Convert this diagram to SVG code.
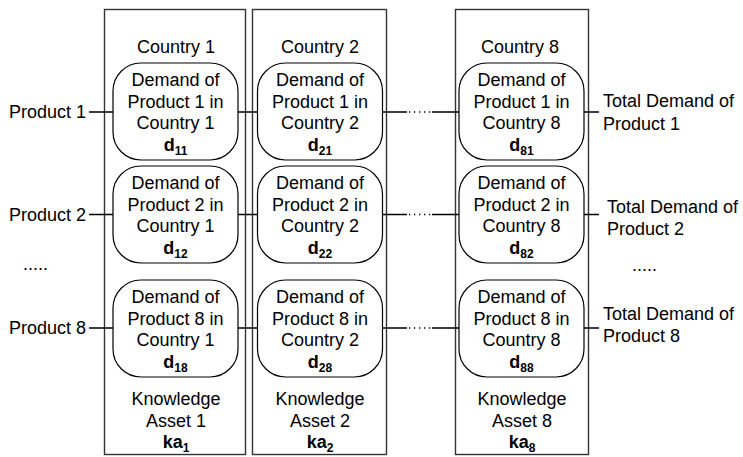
<svg xmlns="http://www.w3.org/2000/svg" width="743" height="457" viewBox="0 0 743 457">
<style>
text{font-family:"Liberation Sans",Arial,sans-serif;font-size:18px;fill:#000}
.c{text-anchor:middle}
.e{text-anchor:end}
.b{font-weight:bold}
.s{font-size:12px;font-weight:bold}
.col{fill:none;stroke:#333;stroke-width:1.4}
.box{fill:#fff;stroke:#000;stroke-width:1.2}
.ln{stroke:#000;stroke-width:1.3;fill:none}
.dot{stroke:#000;stroke-width:1.3;fill:none;stroke-dasharray:1.3 3.7}
</style>
<rect width="743" height="457" fill="#fff"/>
<g id="columns">
<g id="col1"><rect class="col" x="104.5" y="9.5" width="141" height="445"/>
<text class="c" x="176" y="53">Country 1</text>
<text class="c" x="176" y="405">Knowledge</text><text class="c" x="176" y="427">Asset 1</text>
<text class="c" x="176" y="448"><tspan class="b">ka</tspan><tspan class="s" dy="4">1</tspan></text></g>
<g id="col2"><rect class="col" x="252.5" y="9.5" width="134" height="445"/>
<text class="c" x="320" y="53">Country 2</text>
<text class="c" x="320" y="405">Knowledge</text><text class="c" x="320" y="427">Asset 2</text>
<text class="c" x="320" y="448"><tspan class="b">ka</tspan><tspan class="s" dy="4">2</tspan></text></g>
<g id="col8"><rect class="col" x="455.5" y="9.5" width="133" height="445"/>
<text class="c" x="520" y="53">Country 8</text>
<text class="c" x="522" y="405">Knowledge</text><text class="c" x="522" y="427">Asset 8</text>
<text class="c" x="522" y="448"><tspan class="b">ka</tspan><tspan class="s" dy="4">8</tspan></text></g>
</g>
<g id="connectors">
<path class="ln" d="M89 112H113M238 112H257.5M382.5 112H407M432 112H459M584 112H599"/>
<path class="dot" d="M409 112H432"/>
<path class="ln" d="M89 214.5H113M238 214.5H257.5M382.5 214.5H407M432 214.5H459M584 214.5H599"/>
<path class="dot" d="M409 214.5H432"/>
<path class="ln" d="M89 328H113M238 328H257.5M382.5 328H407M432 328H459M584 328H599"/>
<path class="dot" d="M409 328H432"/>
</g>
<g id="labels">
<text class="e" x="86" y="118">Product 1</text>
<text class="e" x="86" y="220.5">Product 2</text>
<text class="e" x="86" y="334">Product 8</text>
<text x="23" y="270">.....</text>
<text x="603" y="107">Total Demand of</text><text x="603" y="130">Product 1</text>
<text x="607" y="213">Total Demand of</text><text x="607" y="235">Product 2</text>
<text x="632" y="271">.....</text>
<text x="603" y="320">Total Demand of</text><text x="603" y="342">Product 8</text>
</g>
<g id="n11"><rect class="box" x="113" y="63" width="125" height="97" rx="28"/>
<text class="c" x="175.5" y="86">Demand of</text><text class="c" x="175.5" y="107.5">Product 1 in</text><text class="c" x="175.5" y="129">Country 1</text>
<text class="c" x="175.5" y="150.5"><tspan class="b">d</tspan><tspan class="s" dy="4">11</tspan></text></g>
<g id="n12"><rect class="box" x="113" y="166" width="125" height="97" rx="28"/>
<text class="c" x="175.5" y="189">Demand of</text><text class="c" x="175.5" y="210.5">Product 2 in</text><text class="c" x="175.5" y="232">Country 1</text>
<text class="c" x="175.5" y="253.5"><tspan class="b">d</tspan><tspan class="s" dy="4">12</tspan></text></g>
<g id="n18"><rect class="box" x="113" y="280" width="125" height="97" rx="28"/>
<text class="c" x="175.5" y="303">Demand of</text><text class="c" x="175.5" y="324.5">Product 8 in</text><text class="c" x="175.5" y="346">Country 1</text>
<text class="c" x="175.5" y="367.5"><tspan class="b">d</tspan><tspan class="s" dy="4">18</tspan></text></g>
<g id="n21"><rect class="box" x="257.5" y="63" width="125" height="97" rx="28"/>
<text class="c" x="320" y="86">Demand of</text><text class="c" x="320" y="107.5">Product 1 in</text><text class="c" x="320" y="129">Country 2</text>
<text class="c" x="320" y="150.5"><tspan class="b">d</tspan><tspan class="s" dy="4">21</tspan></text></g>
<g id="n22"><rect class="box" x="257.5" y="166" width="125" height="97" rx="28"/>
<text class="c" x="320" y="189">Demand of</text><text class="c" x="320" y="210.5">Product 2 in</text><text class="c" x="320" y="232">Country 2</text>
<text class="c" x="320" y="253.5"><tspan class="b">d</tspan><tspan class="s" dy="4">22</tspan></text></g>
<g id="n28"><rect class="box" x="257.5" y="280" width="125" height="97" rx="28"/>
<text class="c" x="320" y="303">Demand of</text><text class="c" x="320" y="324.5">Product 8 in</text><text class="c" x="320" y="346">Country 2</text>
<text class="c" x="320" y="367.5"><tspan class="b">d</tspan><tspan class="s" dy="4">28</tspan></text></g>
<g id="n81"><rect class="box" x="459" y="63" width="125" height="97" rx="28"/>
<text class="c" x="521.5" y="86">Demand of</text><text class="c" x="521.5" y="107.5">Product 1 in</text><text class="c" x="521.5" y="129">Country 8</text>
<text class="c" x="521.5" y="150.5"><tspan class="b">d</tspan><tspan class="s" dy="4">81</tspan></text></g>
<g id="n82"><rect class="box" x="459" y="166" width="125" height="97" rx="28"/>
<text class="c" x="521.5" y="189">Demand of</text><text class="c" x="521.5" y="210.5">Product 2 in</text><text class="c" x="521.5" y="232">Country 8</text>
<text class="c" x="521.5" y="253.5"><tspan class="b">d</tspan><tspan class="s" dy="4">82</tspan></text></g>
<g id="n88"><rect class="box" x="459" y="280" width="125" height="97" rx="28"/>
<text class="c" x="521.5" y="303">Demand of</text><text class="c" x="521.5" y="324.5">Product 8 in</text><text class="c" x="521.5" y="346">Country 8</text>
<text class="c" x="521.5" y="367.5"><tspan class="b">d</tspan><tspan class="s" dy="4">88</tspan></text></g>
</svg>
